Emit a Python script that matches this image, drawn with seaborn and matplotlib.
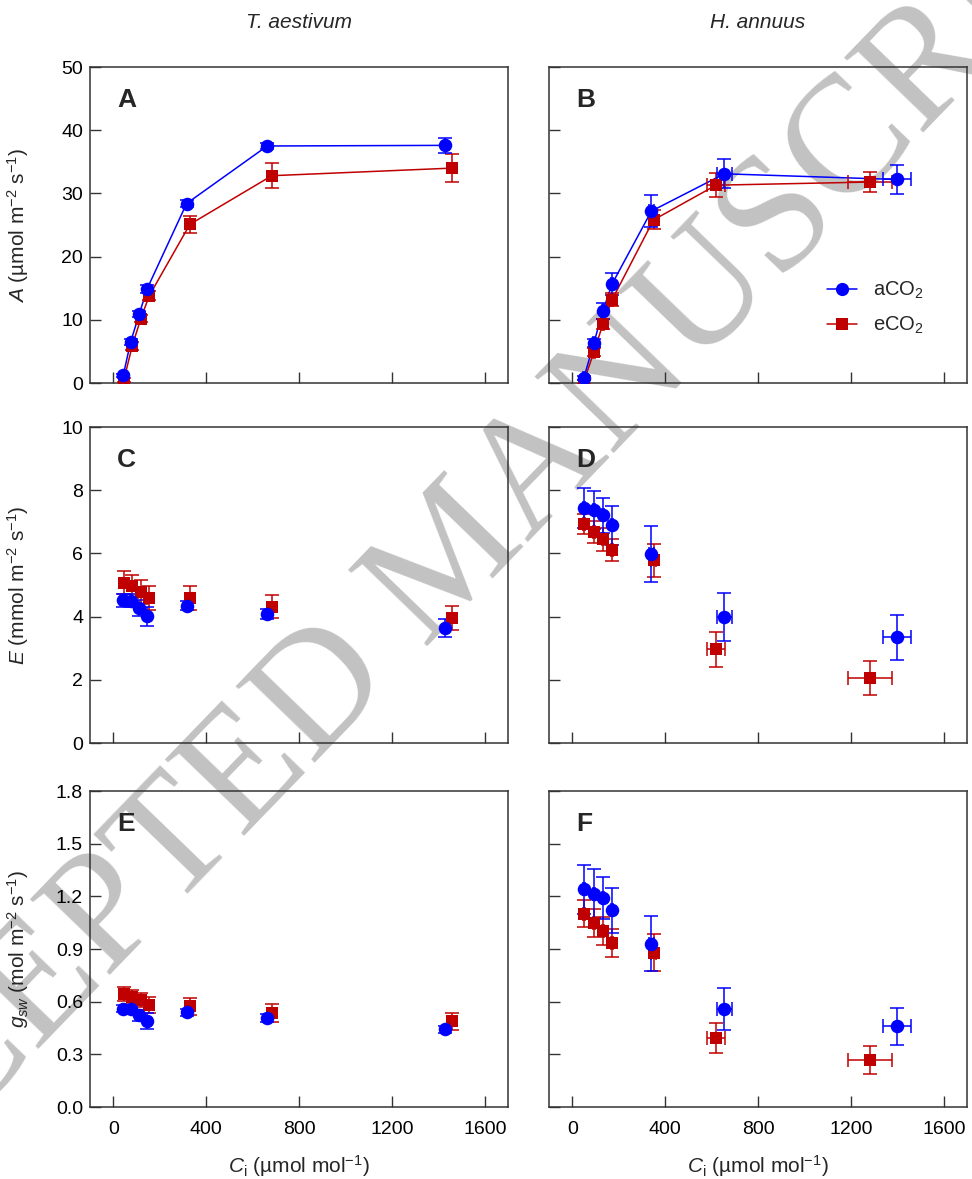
import matplotlib
matplotlib.use("Agg")
import matplotlib.pyplot as plt
from matplotlib.lines import Line2D
import seaborn as sns

# ---------------- data ----------------
# T. aestivum
ta_ci_a = [43, 75, 112, 146, 316, 663, 1428]
ta_ci_e = [46, 82, 119, 155, 330, 683, 1458]
ta_A_a = [1.2, 6.5, 10.9, 14.9, 28.4, 37.5, 37.6]
ta_A_e = [0.5, 5.9, 10.2, 13.8, 25.1, 32.8, 34.0]
ta_A_a_err = [0.3, 0.5, 0.5, 0.6, 0.6, 0.5, 1.2]
ta_A_e_err = [0.3, 0.6, 0.6, 0.7, 1.4, 2.0, 2.2]
ta_E_a = [4.51, 4.50, 4.28, 4.01, 4.35, 4.08, 3.64]
ta_E_e = [5.07, 4.96, 4.78, 4.58, 4.59, 4.31, 3.96]
ta_E_a_err = [0.2, 0.2, 0.25, 0.3, 0.15, 0.15, 0.27]
ta_E_e_err = [0.37, 0.37, 0.37, 0.38, 0.37, 0.37, 0.38]
ta_g_a = [0.560, 0.556, 0.522, 0.490, 0.539, 0.507, 0.442]
ta_g_e = [0.642, 0.627, 0.611, 0.579, 0.573, 0.537, 0.488]
ta_g_a_err = [0.02, 0.02, 0.03, 0.045, 0.02, 0.02, 0.02]
ta_g_e_err = [0.04, 0.04, 0.04, 0.045, 0.05, 0.05, 0.05]

# H. annuus
ha_ci_a = [50, 93, 132, 172, 341, 655, 1400]
ha_ci_e = [50, 93, 133, 172, 350, 619, 1284]
ha_ci_a_err = [5, 5, 5, 5, 10, 32, 60]
ha_ci_e_err = [5, 5, 5, 5, 10, 40, 95]
ha_A_a = [0.8, 6.3, 11.4, 15.7, 27.2, 33.1, 32.2]
ha_A_e = [0.2, 4.9, 9.4, 13.2, 25.8, 31.3, 31.8]
ha_A_a_err = [0.3, 0.6, 1.3, 1.7, 2.5, 2.3, 2.3]
ha_A_e_err = [0.3, 0.6, 0.8, 1.0, 1.5, 1.9, 1.6]
ha_E_a = [7.44, 7.36, 7.21, 6.89, 5.98, 4.00, 3.35]
ha_E_e = [6.93, 6.68, 6.44, 6.10, 5.78, 2.96, 2.06]
ha_E_a_err = [0.64, 0.60, 0.55, 0.62, 0.89, 0.76, 0.71]
ha_E_e_err = [0.33, 0.35, 0.37, 0.34, 0.52, 0.55, 0.53]
ha_g_a = [1.240, 1.215, 1.190, 1.120, 0.930, 0.560, 0.459]
ha_g_e = [1.101, 1.048, 1.000, 0.934, 0.879, 0.393, 0.266]
ha_g_a_err = [0.14, 0.14, 0.12, 0.13, 0.156, 0.12, 0.107]
ha_g_e_err = [0.078, 0.08, 0.08, 0.08, 0.106, 0.085, 0.079]

series_labels = ["aCO$_2$", "eCO$_2$"]
species = ["T. aestivum", "H. annuus"]
panel_letters = ["A", "B", "C", "D", "E", "F"]
x_ticks = [0, 400, 800, 1200, 1600]
A_ticks = [0, 10, 20, 30, 40, 50]
E_ticks = [0, 2, 4, 6, 8, 10]
g_ticks = [0.0, 0.3, 0.6, 0.9, 1.2, 1.5, 1.8]
watermark = "ACCEPTED MANUSCRIPT"

BLUE = "#0000FF"
RED = "#C00000"

# ---------------- style ----------------
sns.set_style("ticks")
plt.rcParams["font.family"] = ["Liberation Sans", "DejaVu Sans"]
plt.rcParams["mathtext.fontset"] = "custom"
plt.rcParams["mathtext.rm"] = "Liberation Sans"
plt.rcParams["mathtext.it"] = "Liberation Sans:italic"
plt.rcParams["mathtext.bf"] = "Liberation Sans:bold"

fig = plt.figure(figsize=(9.72, 11.79), dpi=100)
W, H = 972, 1179


def axes_at(x0, y0, x1, y1):
    return fig.add_axes([x0 / W, 1 - y1 / H, (x1 - x0) / W, (y1 - y0) / H])


col_x = [(90, 508), (549, 967)]
row_y = [(67, 383), (427, 743), (791, 1107)]

# watermark (behind everything)
fig.text(455 / W, 1 - 560 / H, watermark, rotation=46,
         rotation_mode="anchor", ha="center", va="center",
         fontsize=120, color="#c2c2c2", family="Liberation Serif", zorder=-1)

rows = [
    dict(ta=(ta_A_a, ta_A_e, ta_A_a_err, ta_A_e_err),
         ha=(ha_A_a, ha_A_e, ha_A_a_err, ha_A_e_err),
         lim=(0, 50), ticks=A_ticks, fmt="{:.0f}",
         label=r"$\it{A}$ (µmol m$^{-2}$ s$^{-1}$)", lines=True),
    dict(ta=(ta_E_a, ta_E_e, ta_E_a_err, ta_E_e_err),
         ha=(ha_E_a, ha_E_e, ha_E_a_err, ha_E_e_err),
         lim=(0, 10), ticks=E_ticks, fmt="{:.0f}",
         label=r"$\it{E}$ (mmol m$^{-2}$ s$^{-1}$)", lines=False),
    dict(ta=(ta_g_a, ta_g_e, ta_g_a_err, ta_g_e_err),
         ha=(ha_g_a, ha_g_e, ha_g_a_err, ha_g_e_err),
         lim=(0, 1.8), ticks=g_ticks, fmt="{:.1f}",
         label=r"$\it{g}_{\it{sw}}$ (mol m$^{-2}$ s$^{-1}$)", lines=False),
]

k = 0
for r, row in enumerate(rows):
    for c in range(2):
        ax = axes_at(col_x[c][0], row_y[r][0], col_x[c][1], row_y[r][1])
        ax.set_facecolor("none")
        if c == 0:
            xa, xe = ta_ci_a, ta_ci_e
            xa_err, xe_err = None, None
            ya, ye, ya_err, ye_err = row["ta"]
        else:
            xa, xe = ha_ci_a, ha_ci_e
            xa_err, xe_err = ha_ci_a_err, ha_ci_e_err
            ya, ye, ya_err, ye_err = row["ha"]

        for x, y, yerr, xerr, col, mk, ms in [
            (xe, ye, ye_err, xe_err, RED, "s", 80),
            (xa, ya, ya_err, xa_err, BLUE, "o", 95),
        ]:
            if row["lines"]:
                sns.lineplot(x=x, y=y, ax=ax, sort=False, estimator=None,
                             color=col, linewidth=1.1, zorder=2)
            ax.errorbar(x, y, yerr=yerr, xerr=xerr, fmt="none", ecolor=col,
                        elinewidth=1.1, capsize=4.7, capthick=1.1, zorder=3)
            sns.scatterplot(x=x, y=y, ax=ax, color=col, marker=mk, s=ms,
                            linewidth=0, zorder=4)

        ax.set_xlim(-100, 1700)
        ax.set_ylim(*row["lim"])
        ax.set_xticks(x_ticks)
        ax.set_yticks(row["ticks"])
        for s in ax.spines.values():
            s.set_visible(True)
            s.set_linewidth(1.1)
            s.set_color("#333333")
        ax.tick_params(axis="both", direction="in", length=7.7, width=1.0,
                       color="#333333", labelsize=14, labelcolor="black")
        ax.tick_params(axis="x", pad=10)
        ax.tick_params(axis="y", pad=5)
        if r < 2:
            ax.set_xticklabels([])
        else:
            ax.set_xticklabels([str(t) for t in x_ticks])
            ax.set_xlabel(r"$\it{C}_{\rm i}$ (µmol mol$^{-1}$)", fontsize=15)
            ax.xaxis.set_label_coords(0.5, -0.145)
        if c == 0:
            ax.set_yticklabels([row["fmt"].format(t) for t in row["ticks"]])
            ax.set_ylabel(row["label"], fontsize=15)
            ax.yaxis.set_label_coords(-0.14, 0.5)
        else:
            ax.set_yticklabels([])
            ax.set_ylabel("")
        ax.text(0.065, 0.935, panel_letters[k], transform=ax.transAxes,
                ha="left", va="top", fontsize=19, fontweight="bold")
        if r == 0 and c == 1:
            handles = [
                Line2D([], [], color=BLUE, marker="o", markersize=9.5,
                       markeredgewidth=0, linewidth=1.1),
                Line2D([], [], color=RED, marker="s", markersize=9,
                       markeredgewidth=0, linewidth=1.1),
            ]
            ax.legend(handles, series_labels, loc="upper left",
                      bbox_to_anchor=(0.665, 0.327), frameon=False,
                      fontsize=14.5, handlelength=1.5, handletextpad=0.8,
                      labelspacing=0.7, borderpad=0, borderaxespad=0)
        k += 1

for c, name in enumerate(species):
    fig.text((col_x[c][0] + col_x[c][1]) / 2 / W, 1 - 22 / H, name,
             ha="center", va="center", fontsize=15, style="italic")

fig.savefig("out.png", dpi=100)
